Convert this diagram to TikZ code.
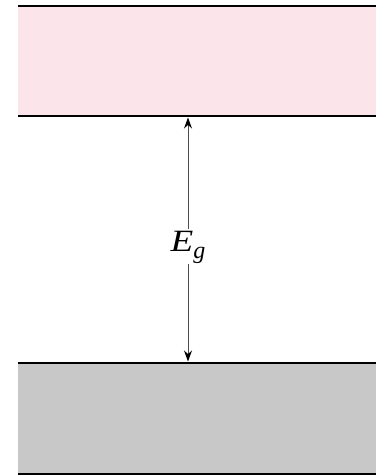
\documentclass[tikz,border=0pt]{standalone}
\usepackage{fontspec}
\setmainfont{Liberation Serif}
\usetikzlibrary{arrows.meta}
\definecolor{bandpink}{RGB}{251,228,234}
\definecolor{bandgray}{RGB}{200,200,200}
\tikzset{
  edge/.style={line width=2.4pt, black},
  gaparrow/.style={line width=0.9pt, black!70, -{Stealth[length=11pt,width=8pt,black]}},
  gaplabel/.style={inner sep=0pt, font=\fontsize{31}{36}\selectfont\itshape}
}
\begin{document}
\begin{tikzpicture}[x=1pt,y=-1pt]
\useasboundingbox (0,0) rectangle (384,476);
% conduction band
\fill[bandpink] (18,6) rectangle (376,116);
\draw[edge] (18,6) -- (376,6);
\draw[edge] (18,116) -- (376,116);
% valence band
\fill[bandgray] (18,363) rectangle (376,474);
\draw[edge] (18,363) -- (376,363);
\draw[edge] (18,474) -- (376,474);
% gap
\coordinate (ctop) at (188,117.5);
\coordinate (cbot) at (188,361.5);
\node[gaplabel] (eg) at (188,247) {\scalebox{1.2}[1]{E}\raisebox{-0.22em}{\fontsize{24}{26}\selectfont g}};
\draw[gaparrow] (188,229) -- (ctop);
\draw[gaparrow] (188,264) -- (cbot);
\end{tikzpicture}
\end{document}
